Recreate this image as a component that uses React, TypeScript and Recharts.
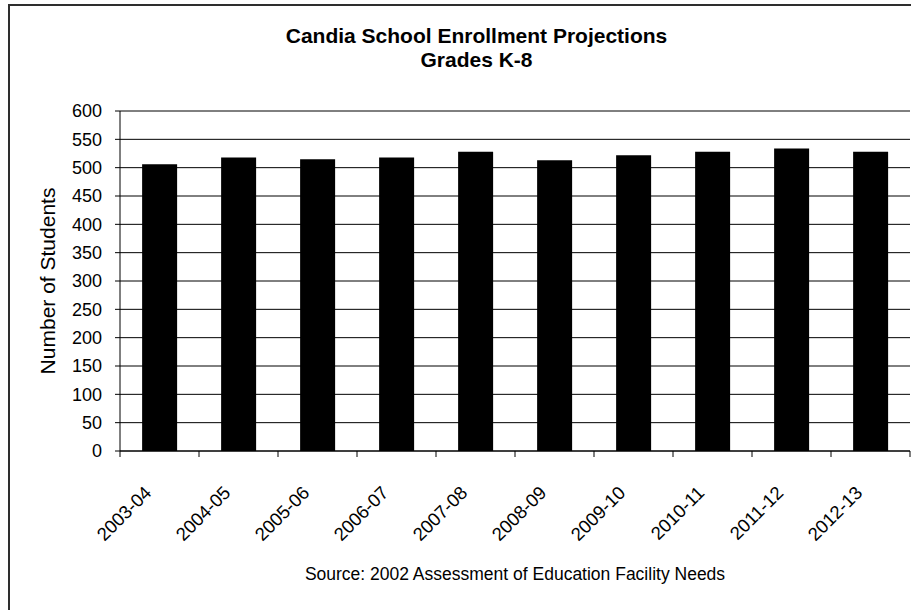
import React from 'react'
import { BarChart, Bar, XAxis, YAxis, CartesianGrid } from 'recharts'

const schoolYears = [
  '2003-04',
  '2004-05',
  '2005-06',
  '2006-07',
  '2007-08',
  '2008-09',
  '2009-10',
  '2010-11',
  '2011-12',
  '2012-13',
]
const enrollment = [506, 518, 515, 518, 528, 513, 522, 528, 534, 528]
const yTicks = [0, 50, 100, 150, 200, 250, 300, 350, 400, 450, 500, 550, 600]

const TITLE = 'Candia School Enrollment Projections'
const SUBTITLE = 'Grades K-8'
const Y_TITLE = 'Number of Students'
const SOURCE = 'Source: 2002 Assessment of Education Facility Needs'

const WIDTH = 911
const HEIGHT = 610
const PLOT_LEFT = 120
const PLOT_RIGHT = 910
const PLOT_TOP = 111
const PLOT_BOTTOM = 451
const FONT = '"Liberation Sans", Arial, Helvetica, sans-serif'

const data = schoolYears.map((year, i) => ({ year, students: enrollment[i] }))
const band = (PLOT_RIGHT - PLOT_LEFT) / schoolYears.length

// ticks sit on the category boundaries, labels are slanted under the centre
const YearTick = (props: any) => {
  const { x, y, payload, index } = props
  const half = band / 2
  const tx = x - 7
  const ty = y + 43
  return (
    <g>
      <line x1={x - half} y1={y} x2={x - half} y2={y + 6} stroke="#000" />
      {index === schoolYears.length - 1 && (
        <line x1={x + half} y1={y} x2={x + half} y2={y + 6} stroke="#000" />
      )}
      <text
        x={tx}
        y={ty}
        textAnchor="end"
        transform={`rotate(-45, ${tx}, ${ty})`}
        fontSize={18.5}
        fontFamily={FONT}
        fill="#000"
      >
        {payload.value}
      </text>
    </g>
  )
}

export default function App() {
  return (
    <div
      style={{
        position: 'absolute',
        left: 0,
        top: 0,
        width: WIDTH,
        height: HEIGHT,
        overflow: 'hidden',
        background: '#fff',
      }}
    >
      <div
        style={{
          position: 'absolute',
          left: 8,
          top: 4,
          width: 960,
          height: 660,
          border: '2px solid #2e2e2e',
          boxSizing: 'border-box',
        }}
      />
      <div style={{ position: 'absolute', left: 0, top: 0 }}>
        <BarChart
          width={WIDTH}
          height={HEIGHT}
          data={data}
          margin={{ top: PLOT_TOP, right: WIDTH - PLOT_RIGHT, bottom: 0, left: 0 }}
          barCategoryGap="28%"
        >
          <CartesianGrid horizontal vertical={false} stroke="#000" />
          <XAxis
            dataKey="year"
            interval={0}
            height={HEIGHT - PLOT_BOTTOM}
            tickLine={false}
            tickSize={0}
            tickMargin={0}
            axisLine={{ stroke: '#000' }}
            tick={<YearTick />}
          />
          <YAxis
            domain={[0, 600]}
            ticks={yTicks}
            interval={0}
            width={PLOT_LEFT}
            tickSize={5}
            tickMargin={13}
            axisLine={{ stroke: '#000' }}
            tickLine={{ stroke: '#000' }}
            tick={{ fill: '#000', fontSize: 18, fontFamily: FONT }}
          />
          <YAxis
            yAxisId="edge"
            orientation="right"
            width={0}
            domain={[0, 600]}
            tick={false}
            tickLine={false}
            axisLine={{ stroke: '#808080' }}
          />
          <Bar dataKey="students" fill="#000" isAnimationActive={false} />
        </BarChart>
      </div>
      <svg
        width={WIDTH}
        height={HEIGHT}
        style={{ position: 'absolute', left: 0, top: 0, pointerEvents: 'none' }}
      >
        <text x={476.5} y={43} textAnchor="middle" fontSize={21} fontWeight="bold" fontFamily={FONT} fill="#000">
          {TITLE}
        </text>
        <text x={476.5} y={67} textAnchor="middle" fontSize={21} fontWeight="bold" fontFamily={FONT} fill="#000">
          {SUBTITLE}
        </text>
        <text
          x={55}
          y={281}
          textAnchor="middle"
          transform="rotate(-90, 55, 281)"
          fontSize={21}
          fontFamily={FONT}
          fill="#000"
        >
          {Y_TITLE}
        </text>
        <text x={515} y={580} textAnchor="middle" fontSize={17.5} fontFamily={FONT} fill="#000">
          {SOURCE}
        </text>
      </svg>
    </div>
  )
}
